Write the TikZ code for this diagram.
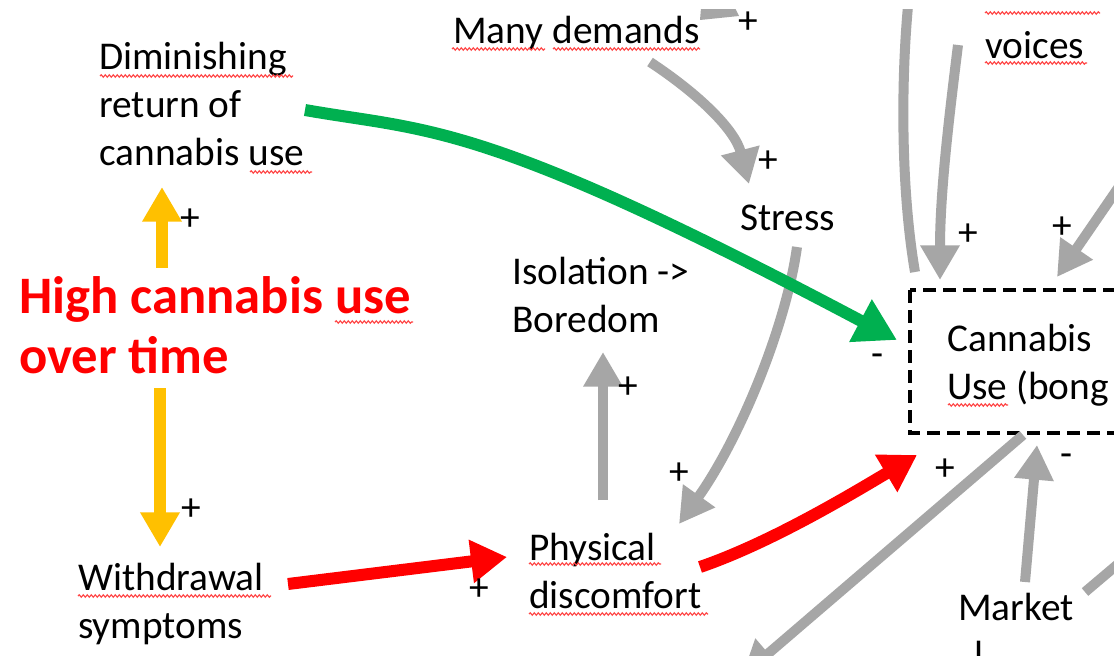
\documentclass[tikz,border=0pt]{standalone}
\usepackage{fontspec}
\setmainfont{Carlito}
\usetikzlibrary{arrows.meta,decorations.pathmorphing}
\definecolor{linkgray}{RGB}{166,166,166}
\definecolor{linkgreen}{RGB}{0,176,80}
\definecolor{linkred}{RGB}{255,0,0}
\definecolor{linkamber}{RGB}{255,192,0}
\definecolor{spellred}{RGB}{255,70,70}
% left-aligned stack of lines whose baseline is that of the first line
\newcommand\lns[1]{\vtop{\halign{##\hfil\cr#1\crcr}}}

\begin{document}
\begin{tikzpicture}[x=0.75pt,y=-0.75pt,
  lbl/.style={anchor=base west,inner sep=0pt,font=\fontsize{29.5}{36}\selectfont},
  sign/.style={inner sep=0pt,font=\fontsize{29.5}{36}\selectfont},
  headline/.style={anchor=base west,inner sep=0pt,text=linkred,
    font=\bfseries\fontsize{39.5}{45}\selectfont},
  graylink/.style={line width=7.5pt,draw=linkgray,
    -{Triangle[length=26pt,width=28pt]}},
  grayline/.style={line width=7.5pt,draw=linkgray},
  greenlink/.style={line width=9pt,draw=linkgreen,
    -{Triangle[length=31pt,width=34pt]}},
  redlink/.style={line width=9pt,draw=linkred,
    -{Triangle[length=27pt,width=31pt]}},
  amberlink/.style={line width=9pt,draw=linkamber,
    -{Triangle[length=26pt,width=28pt]}},
  usebox/.style={line width=3.6pt,dash pattern=on 10pt off 5pt},
  squig/.style={draw=spellred,line width=0.85pt,
    decorate,decoration={snake,segment length=3pt,amplitude=0.9pt}},
]
\useasboundingbox (0,0) rectangle (1114,656);
\fill[white] (0,0) rectangle (1114,656);
\clip (0,10) rectangle (1114,656);

% ---- variables ----
\node[lbl] (demands) at (453,44) {Many demands};
\node[lbl] (voices) at (985,59) {voices};
\node[lbl] (dimret) at (99,70) {\lns{Diminishing\cr return of\cr cannabis use}};
\node[lbl] (stress) at (740,230) {Stress};
\node[lbl] (isol) at (512,284) {\lns{Isolation ->\cr Boredom}};
\node[lbl] (use) at (947,351) {\lns{Cannabis\cr Use (bong}};
\node[lbl] (phys) at (529,560) {\lns{Physical\cr discomfort}};
\node[lbl] (withd) at (78,590) {\lns{Withdrawal\cr symptoms}};
\node[lbl] (market) at (958,620) {\lns{Market\cr \hspace{12.5pt}l}};
\node[headline] (high) at (19,313) {\lns{High cannabis use\cr over time}};

% dashed frame round the cannabis use variable
\draw[usebox] (910,290) rectangle (1140,433);

% ---- connector end points ----
\coordinate (demands-out) at (650,62);
\coordinate (stress-in) at (749,184);
\coordinate (stress-out) at (797,247);
\coordinate (phys-in) at (679,524);
\coordinate (phys-up) at (603,500);
\coordinate (isol-in) at (603,352);
\coordinate (withd-out) at (288,584);
\coordinate (phys-left) at (507,557);
\coordinate (phys-out) at (700,567);
\coordinate (use-bl) at (917,455);
\coordinate (dim-out) at (305,110);
\coordinate (use-left) at (897,340);
\coordinate (high-up) at (162,268);
\coordinate (dim-in) at (162,187);
\coordinate (high-down) at (160,388);
\coordinate (withd-in) at (160,547);
\coordinate (use-top1) at (915,272);
\coordinate (up-exit) at (912,-30);
\coordinate (voices-out) at (958,45);
\coordinate (use-top2) at (940,280);
\coordinate (right-top) at (1125,178);
\coordinate (use-top3) at (1057,277);
\coordinate (use-bot) at (1023,435);
\coordinate (down-exit) at (742,676);
\coordinate (market-out) at (1025,582);
\coordinate (use-bot2) at (1037,445);
\coordinate (market-right) at (1085,592);
\coordinate (right-exit) at (1150,537);

% ---- grey links ----
\draw[graylink] (demands-out) .. controls (700,95) and (735,130) .. (stress-in);
\draw[graylink] (stress-out) .. controls (786,327) and (739,440) .. (phys-in);
\draw[graylink] (phys-up) -- (isol-in);
\draw[grayline] (use-top1) .. controls (900,185) and (900,60) .. (up-exit);
\draw[graylink] (voices-out) .. controls (950,110) and (940,190) .. (use-top2);
\draw[graylink] (right-top) -- (use-top3);
\draw[graylink] (use-bot) -- (down-exit);
\draw[graylink] (market-out) -- (use-bot2);
\draw[grayline] (market-right) -- (right-exit);
% lower end of an arrowhead cut off by the top edge
\fill[linkgray] (701,8) -- (735,8) -- (739,16) -- (700,20) -- cycle;

% ---- coloured links ----
\draw[greenlink] (dim-out) .. controls (430,132) and (480,119) .. (use-left);
\draw[redlink] (withd-out) -- (phys-left);
\draw[redlink] (phys-out) .. controls (770,543) and (850,495) .. (use-bl);
\draw[amberlink] (high-up) -- (dim-in);
\draw[amberlink] (high-down) -- (withd-in);

% ---- polarity signs ----
\node[sign] (s1) at (748,23) {+};
\node[sign] (s2) at (768,162) {+};
\node[sign] (s3) at (968,235) {+};
\node[sign] (s4) at (1062,228) {+};
\node[sign] (s5) at (878,360) {-};
\node[sign] (s6) at (945,470) {+};
\node[sign] (s7) at (1067,460) {-};
\node[sign] (s8) at (628,388) {+};
\node[sign] (s9) at (679,474) {+};
\node[sign] (s10) at (190,220) {+};
\node[sign] (s11) at (191,510) {+};
\node[sign] (s12) at (479,590) {+};

% ---- spelling marks under words ----
\foreach \a/\b/\y in {452/545/49, 553/700/49, 985/1087/63, 985/1100/13,
    100/293/76, 250/312/172, 335/413/322, 948/1008/405,
    78/271/596, 529/661/564, 529/708/614}
  \draw[squig] (\a,\y) -- (\b,\y);
\end{tikzpicture}
\end{document}
